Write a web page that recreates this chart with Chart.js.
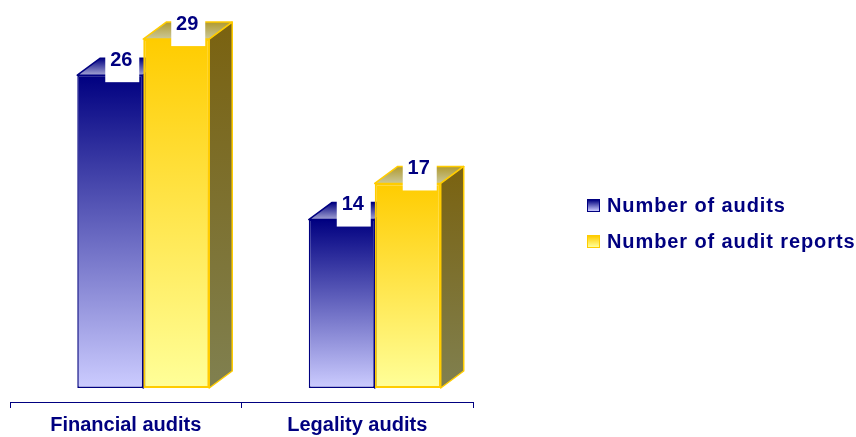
<!DOCTYPE html>
<html>
<head>
<meta charset="utf-8">
<script src="https://cdn.jsdelivr.net/npm/chart.js@4.4.0/dist/chart.umd.min.js"></script>
<style>
  html, body { margin: 0; padding: 0; background: #fff; }
  #wrap { position: relative; width: 856px; height: 437px; }
  #legend { position: absolute; left: 587px; top: 0; font: bold 20px "Liberation Sans", Arial, sans-serif; color: #000080; letter-spacing: 0.9px; }
  .legend-item { position: absolute; left: 0; height: 24px; line-height: 24px; white-space: nowrap; }
  .legend-box { position: absolute; left: 0; top: 6px; width: 11px; height: 11px; }
  .legend-text { position: absolute; left: 20px; top: 0; }
</style>
</head>
<body>
<div id="wrap">
  <canvas id="chart"></canvas>
  <div id="legend"></div>
</div>
<script>
// --- DADOS ---
const categories = ['Financial audits', 'Legality audits'];
const seriesLabels = ['Number of audits', 'Number of audit reports'];
const auditsCount = [26, 14];
const reportsCount = [29, 17];

// --- CONSTANTES DE UI ---
const NAVY = '#000080';
const SHIFT = 17.5;      // deslocamento dos blocos 3D em relação ao eixo
const DEPTH_X = 23;
const DEPTH_Y = 17;

const seriesStyles = [
  { front: ['#000080', '#ccccff'], top: ['#000080', '#a4a4d4'], side: ['#000050', '#666699'], border: '#000080' },
  { front: ['#ffcc00', '#ffff99'], top: ['#b09a30', '#cbc89a'], side: ['#7a6210', '#808050'], border: '#ffcc00' }
];

Chart.defaults.font.family = "'Liberation Sans', Arial, sans-serif";

/**
 * Gradiente vertical da face frontal de uma barra, de cima (valor) até a base (0).
 */
function frontGradient(context, style) {
  const chart = context.chart;
  const { ctx, chartArea, scales } = chart;
  if (!chartArea || context.raw === undefined) return style.front[0];
  const yTop = scales.y.getPixelForValue(context.raw);
  const yBase = scales.y.getPixelForValue(0);
  const g = ctx.createLinearGradient(0, yTop, 0, yBase);
  g.addColorStop(0, style.front[0]);
  g.addColorStop(1, style.front[1]);
  return g;
}

function fillFace(ctx, points, y0, y1, colors, border) {
  const g = ctx.createLinearGradient(0, y0, 0, y1);
  g.addColorStop(0, colors[0]);
  g.addColorStop(1, colors[1]);
  ctx.beginPath();
  ctx.moveTo(points[0][0], points[0][1]);
  points.slice(1).forEach(p => ctx.lineTo(p[0], p[1]));
  ctx.closePath();
  ctx.fillStyle = g;
  ctx.fill();
  ctx.strokeStyle = border;
  ctx.lineWidth = 1.5;
  ctx.lineJoin = 'round';
  ctx.stroke();
}

// Desenha topo e lateral das barras e as etiquetas de valor
const bars3d = {
  id: 'bars3d',
  beforeDatasetsDraw(chart) {
    const ctx = chart.ctx;
    ctx.save();
    ctx.translate(SHIFT, 0);
    chart.data.datasets.forEach((ds, i) => {
      const style = seriesStyles[i];
      chart.getDatasetMeta(i).data.forEach(bar => {
        const { x, y, base, width } = bar.getProps(['x', 'y', 'base', 'width'], true);
        const l = x - width / 2, r = x + width / 2;
        fillFace(ctx, [[l, y], [r, y], [r + DEPTH_X, y - DEPTH_Y], [l + DEPTH_X, y - DEPTH_Y]],
          y - DEPTH_Y, y, style.top, style.border);
        fillFace(ctx, [[r, y], [r + DEPTH_X, y - DEPTH_Y], [r + DEPTH_X, base - DEPTH_Y], [r, base]],
          y - DEPTH_Y, base, style.side, style.border);
      });
    });
  },
  afterDatasetsDraw(chart) {
    const ctx = chart.ctx;
    ctx.font = "bold 20px 'Liberation Sans', Arial, sans-serif";
    ctx.textAlign = 'center';
    ctx.textBaseline = 'middle';
    chart.data.datasets.forEach((ds, i) => {
      chart.getDatasetMeta(i).data.forEach((bar, j) => {
        const { x, y } = bar.getProps(['x', 'y'], true);
        ctx.fillStyle = '#ffffff';
        ctx.fillRect(x + 12 - 17, y - 26, 34, 33);
        ctx.fillStyle = NAVY;
        ctx.fillText(String(ds.data[j]), x + 11, y - 15);
      });
    });
    ctx.restore();
  }
};

new Chart(document.getElementById('chart'), {
  type: 'bar',
  data: {
    labels: categories,
    datasets: [
      {
        label: seriesLabels[0],
        data: auditsCount,
        backgroundColor: c => frontGradient(c, seriesStyles[0]),
        borderColor: seriesStyles[0].border,
        borderWidth: 1.5
      },
      {
        label: seriesLabels[1],
        data: reportsCount,
        backgroundColor: c => frontGradient(c, seriesStyles[1]),
        borderColor: seriesStyles[1].border,
        borderWidth: 2
      }
    ]
  },
  options: {
    responsive: true,
    maintainAspectRatio: false,
    animation: false,
    base: 0,
    borderSkipped: false,
    categoryPercentage: 0.57,
    barPercentage: 1.0,
    layout: { padding: { left: 10, right: 383, top: 3, bottom: -5 } },
    plugins: {
      legend: { display: false },
      tooltip: { enabled: false }
    },
    scales: {
      y: { display: false, min: -1.163, max: 32 },
      x: {
        grid: { offset: true, drawOnChartArea: false, drawTicks: true, tickLength: 6, color: NAVY },
        border: { display: true, color: NAVY, width: 1 },
        ticks: { color: NAVY, padding: 5, font: { size: 20, weight: 'bold' } }
      }
    }
  },
  plugins: [bars3d]
});

// --- LEGENDA ---
const legend = document.getElementById('legend');
seriesLabels.forEach((label, i) => {
  const style = seriesStyles[i];
  const item = document.createElement('div');
  item.className = 'legend-item';
  item.style.top = (193 + i * 36) + 'px';
  item.innerHTML = `<div class="legend-box" style="background: linear-gradient(${style.front[0]}, ${style.front[1]}); border: 1px solid ${style.border};"></div>` +
    `<span class="legend-text">${label}</span>`;
  legend.appendChild(item);
});
</script>
</body>
</html>
